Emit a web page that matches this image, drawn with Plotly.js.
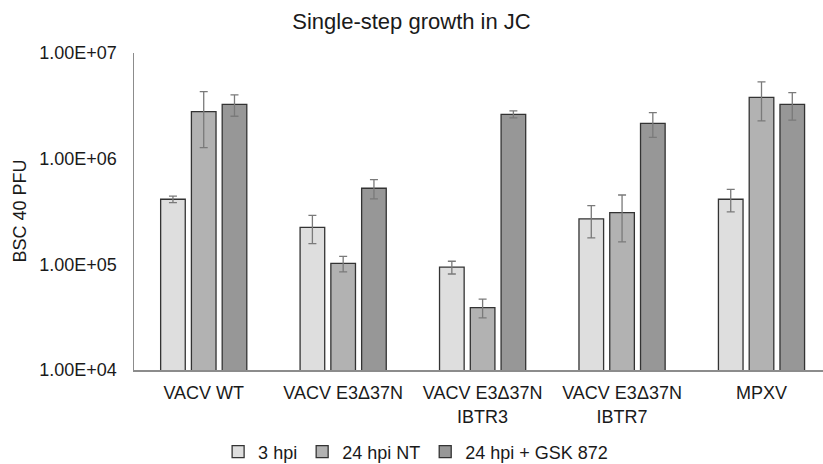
<!DOCTYPE html>
<html>
<head>
<meta charset="utf-8">
<script src="https://cdn.plot.ly/plotly-3.0.1.min.js"></script>
<style>html,body{margin:0;padding:0;background:#fff;}#chart{width:823px;height:464px;}</style>
</head>
<body>
<div id="chart"></div>
<script>
const categories = ["VACV WT", "VACV E3Δ37N", "VACV E3Δ37N<br>IBTR3", "VACV E3Δ37N<br>IBTR7", "MPXV"];
const seriesNames = ["3 hpi", "24 hpi NT", "24 hpi + GSK 872"];
const hpi3 = [4.13e5, 2.24e5, 9.4e4, 2.69e5, 4.13e5];
const hpi3Err = [3.0e4, 6.7e4, 1.3e4, 9.1e4, 1.0e5];
const hpi24NT = [2.79e6, 1.02e5, 3.9e4, 3.08e5, 3.81e6];
const hpi24NTErr = [1.52e6, 1.7e4, 7.8e3, 1.45e5, 1.53e6];
const hpi24GSK = [3.27e6, 5.25e5, 2.63e6, 2.16e6, 3.27e6];
const hpi24GSKErr = [7.5e5, 1.08e5, 2.0e5, 5.7e5, 9.5e5];
const yTickVals = [1e4, 1e5, 1e6, 1e7];
const yTickText = ["1.00E+04", "1.00E+05", "1.00E+06", "1.00E+07"];

const colors = ["#dedede", "#b2b2b2", "#979797"];
const values = [hpi3, hpi24NT, hpi24GSK];
const errs = [hpi3Err, hpi24NTErr, hpi24GSKErr];
const xIdx = categories.map((c, i) => i);

const traces = seriesNames.map((name, k) => ({
  type: "bar",
  name: name,
  x: xIdx,
  y: values[k],
  marker: {color: colors[k], line: {color: "#333333", width: 1.3}},
  error_y: {type: "data", array: errs[k], visible: true, color: "#7a7a7a", thickness: 1.3, width: 4}
}));

const font = "Liberation Sans, Arial, sans-serif";
const layout = {
  width: 823, height: 464,
  margin: {l: 134, r: 0, t: 53, b: 94},
  paper_bgcolor: "#fff", plot_bgcolor: "#fff",
  barmode: "group", bargap: 0.338, bargroupgap: 0.2,
  font: {family: font, color: "#1a1a1a", size: 18},
  title: {text: "Single-step growth in JC", x: 0.5, xref: "container", xanchor: "center",
          y: 1 - 21/464, yref: "container", yanchor: "middle",
          font: {family: font, size: 22, color: "#1a1a1a"}},
  xaxis: {
    tickmode: "array", tickvals: xIdx, ticktext: categories,
    range: [-0.5, 4.441], showgrid: false, zeroline: false,
    showline: true, linecolor: "#8c8c8c", linewidth: 1.5,
    ticks: "outside", ticklen: 6, tickcolor: "rgba(0,0,0,0)",
    tickfont: {family: font, size: 18, color: "#1a1a1a"}, fixedrange: true
  },
  yaxis: {
    type: "log", range: [4, 7], tickmode: "array", tickvals: yTickVals, ticktext: yTickText,
    showgrid: false, zeroline: false, showline: true, linecolor: "#8c8c8c", linewidth: 1.5,
    ticks: "outside", ticklen: 12, tickcolor: "rgba(0,0,0,0)",
    tickfont: {family: font, size: 18, color: "#1a1a1a"}, fixedrange: true
  },
  showlegend: true,
  legend: {orientation: "h", xref: "container", yref: "container", x: 0.505, xanchor: "center",
           y: 1 - 452/464, yanchor: "middle", font: {family: font, size: 18, color: "#1a1a1a"},
           itemwidth: 30, bgcolor: "rgba(0,0,0,0)"},
  annotations: [{text: "BSC 40 PFU", xref: "paper", yref: "paper", x: (19 - 134) / 689, y: 0.5,
                 xanchor: "center", yanchor: "middle", textangle: -90, showarrow: false,
                 font: {family: font, size: 18, color: "#1a1a1a"}}]
};

Plotly.newPlot("chart", traces, layout, {displayModeBar: false, staticPlot: true});
</script>
</body>
</html>
